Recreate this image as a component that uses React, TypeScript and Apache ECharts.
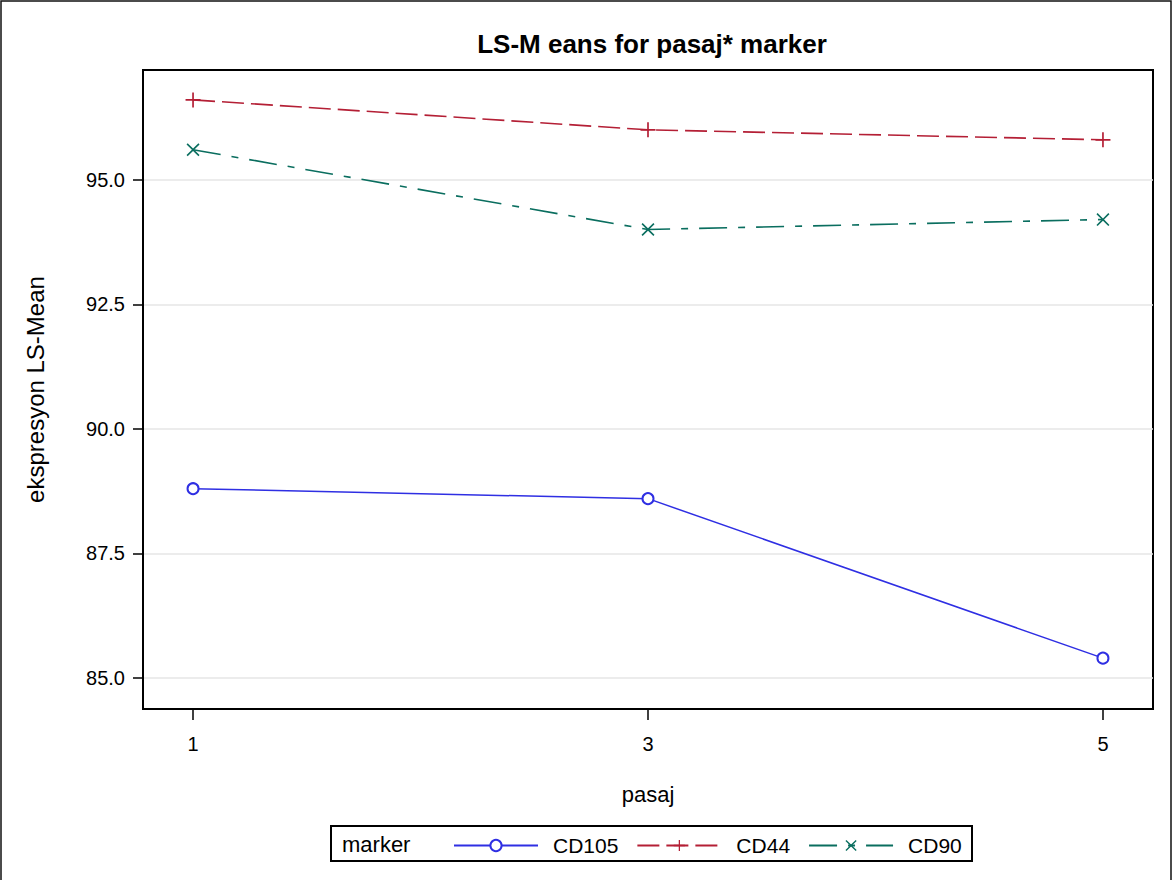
import React, { useEffect, useRef } from "react";
import * as echarts from "echarts";

const titleText = "LS-M eans for pasaj* marker";
const xName = "pasaj";
const yName = "ekspresyon LS-Mean";
const legendTitle = "marker";
const pasaj = [1, 3, 5];
const xTicks = [1, 3, 5];
const yTicks = [85, 87.5, 90, 92.5, 95];
const seriesNames = ["CD105", "CD44", "CD90"];
const cd105 = [88.8, 88.6, 85.4];
const cd44 = [96.6, 96.0, 95.8];
const cd90 = [95.6, 94.0, 94.2];

const FONT = "'Liberation Sans', Arial, sans-serif";
const PLUS =
  "path://M-0.9,-8L0.9,-8L0.9,-0.9L8,-0.9L8,0.9L0.9,0.9L0.9,8L-0.9,8L-0.9,0.9L-8,0.9L-8,-0.9L-0.9,-0.9Z";
const CROSS =
  "path://M-6.6,-8L0,-1.4L6.6,-8L8,-6.6L1.4,0L8,6.6L6.6,8L0,1.4L-6.6,8L-8,6.6L-1.4,0L-8,-6.6Z";

export default function App() {
  const ref = useRef<HTMLDivElement>(null);
  useEffect(() => {
    document.body.style.margin = "0";
    const chart = echarts.init(ref.current!, null, { renderer: "svg" });
    const pts = (vals: number[]) => pasaj.map((p, i) => [p, vals[i]]);
    chart.setOption({
      animation: false,
      backgroundColor: "#ffffff",
      textStyle: { fontFamily: FONT },
      grid: {
        left: 143,
        top: 70,
        right: 20,
        bottom: 171,
        show: true,
        borderColor: "#000",
        borderWidth: 2,
        backgroundColor: "transparent",
      },
      xAxis: {
        type: "value",
        min: 0.78,
        max: 5.22,
        name: xName,
        nameLocation: "middle",
        nameGap: 74,
        nameTextStyle: { fontSize: 22, color: "#000", fontFamily: FONT },
        axisLine: { show: true, lineStyle: { color: "#000", width: 2 } },
        axisTick: { show: true, length: 11, customValues: xTicks, lineStyle: { color: "#000", width: 1.5 } },
        axisLabel: { customValues: xTicks, fontSize: 20, color: "#000", margin: 25, fontFamily: FONT },
        splitLine: { show: false },
      },
      yAxis: {
        type: "value",
        min: 84.38,
        max: 97.2,
        name: yName,
        nameLocation: "middle",
        nameGap: 96,
        nameTextStyle: { fontSize: 24, color: "#000", fontFamily: FONT },
        axisLine: { show: true, lineStyle: { color: "#000", width: 2 } },
        axisTick: { show: true, length: 10, customValues: yTicks, lineStyle: { color: "#000", width: 1.5 } },
        axisLabel: {
          customValues: yTicks,
          fontSize: 20,
          color: "#000",
          margin: 18,
          fontFamily: FONT,
          formatter: (v: number) => v.toFixed(1),
        },
        splitLine: { show: true, lineStyle: { color: "#e6e6e6", width: 1.5 } },
      },
      legend: {
        left: 448,
        top: 830,
        itemWidth: 84,
        itemHeight: 14,
        itemGap: 18,
        textStyle: { fontSize: 21, color: "#000", fontFamily: FONT, padding: [0, 0, 0, 10] },
        data: seriesNames,
      },
      series: [
        {
          name: seriesNames[0],
          type: "line",
          data: pts(cd105),
          symbol: "emptyCircle",
          symbolSize: 11,
          color: "#2f2fe3",
          lineStyle: { width: 1.5, type: "solid" },
          itemStyle: { borderWidth: 1.8 },
        },
        {
          name: seriesNames[1],
          type: "line",
          data: pts(cd44),
          symbol: PLUS,
          symbolSize: 15,
          color: "#b41f35",
          lineStyle: { width: 1.6, type: [22, 7] },
        },
        {
          name: seriesNames[2],
          type: "line",
          data: pts(cd90),
          symbol: CROSS,
          symbolSize: 13,
          color: "#0a6e5f",
          lineStyle: { width: 1.6, type: [28, 11, 7, 11] },
        },
      ],
      graphic: [
        {
          type: "rect",
          shape: { x: 1, y: 1, width: 1170, height: 900 },
          style: { fill: "none", stroke: "#111", lineWidth: 1.5 },
          silent: true,
        },
        {
          type: "text",
          x: 652,
          y: 44,
          style: {
            text: titleText,
            fontSize: 26,
            fontWeight: "bold",
            fontFamily: FONT,
            fill: "#000",
            align: "center",
            verticalAlign: "middle",
          },
        },
        {
          type: "rect",
          shape: { x: 331, y: 826, width: 641, height: 35 },
          style: { fill: "none", stroke: "#000", lineWidth: 2 },
          silent: true,
        },
        {
          type: "text",
          x: 342,
          y: 844,
          style: {
            text: legendTitle,
            fontSize: 22,
            fontFamily: FONT,
            fill: "#000",
            align: "left",
            verticalAlign: "middle",
          },
        },
      ],
    });
    return () => chart.dispose();
  }, []);
  return (
    <div
      ref={ref}
      style={{ position: "fixed", left: 0, top: 0, width: 1173, height: 880 }}
    />
  );
}
